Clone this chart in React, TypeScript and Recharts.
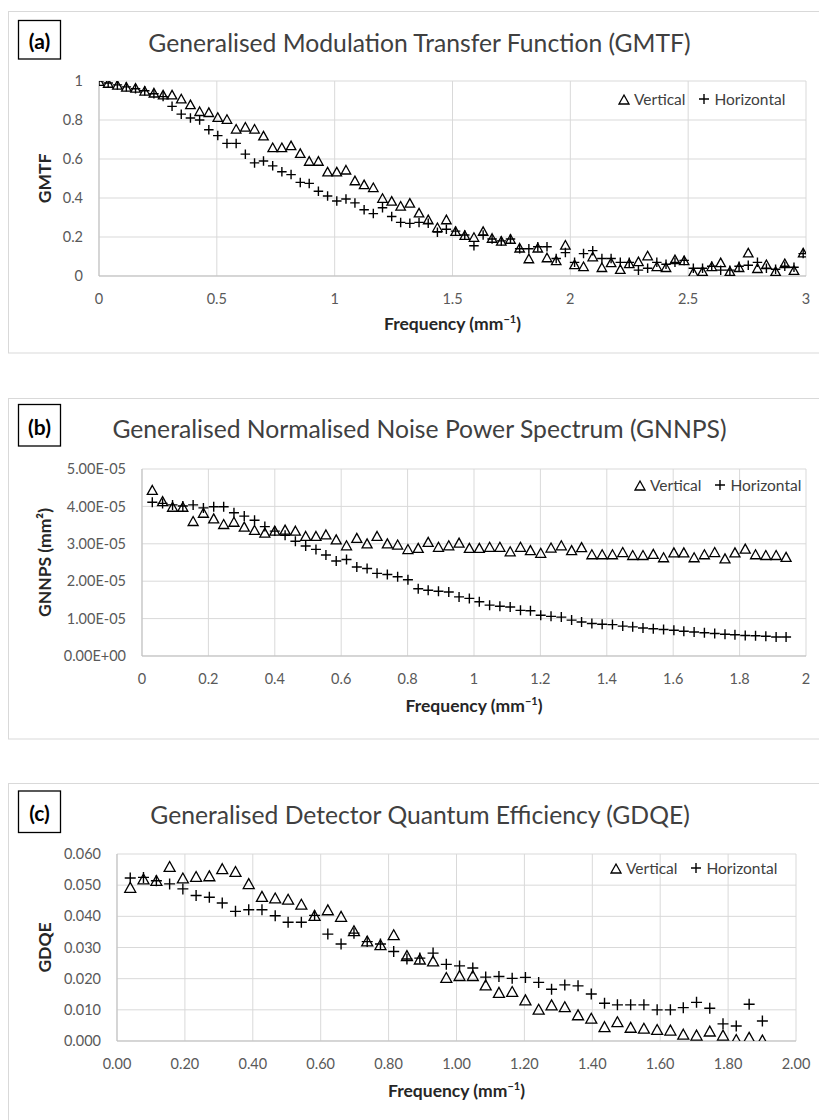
import React from 'react';
import { ScatterChart, Scatter, XAxis, YAxis, CartesianGrid, Legend, Label } from 'recharts';

const FONT = 'Lato, "Open Sans", sans-serif';

// (a) GMTF
const freqA = [
  0.0, 0.039, 0.078, 0.116, 0.155, 0.194, 0.233, 0.272, 0.31, 0.349, 0.388, 0.427, 0.466, 0.504, 0.543, 0.582,
  0.621, 0.66, 0.698, 0.737, 0.776, 0.815, 0.854, 0.892, 0.931, 0.97, 1.009, 1.048, 1.086, 1.125, 1.164, 1.203,
  1.242, 1.28, 1.319, 1.358, 1.397, 1.436, 1.474, 1.513, 1.552, 1.591, 1.63, 1.668, 1.707, 1.746, 1.785, 1.824,
  1.862, 1.901, 1.94, 1.979, 2.018, 2.056, 2.095, 2.134, 2.173, 2.212, 2.25, 2.289, 2.328, 2.367, 2.406, 2.444,
  2.483, 2.522, 2.561, 2.6, 2.638, 2.677, 2.716, 2.755, 2.794, 2.832, 2.871, 2.91, 2.949, 2.988,
];
const gmtfVertical = [
  1.0, 0.99, 0.98, 0.97, 0.965, 0.95, 0.94, 0.93, 0.93, 0.91,
  0.88, 0.845, 0.84, 0.815, 0.805, 0.755, 0.765, 0.755, 0.72, 0.66,
  0.66, 0.67, 0.63, 0.59, 0.59, 0.535, 0.535, 0.545, 0.49, 0.47,
  0.455, 0.4, 0.385, 0.36, 0.375, 0.325, 0.29, 0.25, 0.29, 0.23,
  0.21, 0.2, 0.23, 0.195, 0.18, 0.19, 0.145, 0.09, 0.145, 0.095,
  0.08, 0.16, 0.06, 0.05, 0.1, 0.045, 0.07, 0.035, 0.065, 0.075,
  0.105, 0.05, 0.045, 0.085, 0.08, 0.02, 0.025, 0.05, 0.07, 0.025,
  0.045, 0.12, 0.04, 0.06, 0.025, 0.065, 0.03, 0.12,
];
const gmtfHorizontal = [
  1.0, 0.99, 0.98, 0.97, 0.96, 0.95, 0.935, 0.92, 0.87, 0.83,
  0.81, 0.8, 0.75, 0.72, 0.68, 0.68, 0.625, 0.58, 0.59, 0.565,
  0.535, 0.52, 0.48, 0.475, 0.435, 0.41, 0.385, 0.395, 0.375, 0.34,
  0.32, 0.35, 0.305, 0.275, 0.27, 0.275, 0.27, 0.225, 0.24, 0.23,
  0.21, 0.155, 0.21, 0.19, 0.18, 0.19, 0.14, 0.14, 0.15, 0.15,
  0.09, 0.12, 0.07, 0.115, 0.13, 0.09, 0.09, 0.07, 0.07, 0.03,
  0.04, 0.07, 0.06, 0.07, 0.08, 0.04, 0.04, 0.05, 0.03, 0.03,
  0.05, 0.055, 0.07, 0.04, 0.035, 0.05, 0.045, 0.115,
];
const gmtfXTicks = [0, 0.5, 1, 1.5, 2, 2.5, 3];
const gmtfYTicks = [0, 0.2, 0.4, 0.6, 0.8, 1];

// (b) GNNPS (mm²)
const freqB = [
  0.031, 0.062, 0.092, 0.123, 0.154, 0.185, 0.216, 0.246, 0.277, 0.308, 0.339, 0.37, 0.4, 0.431, 0.462, 0.493,
  0.524, 0.554, 0.585, 0.616, 0.647, 0.678, 0.708, 0.739, 0.77, 0.801, 0.832, 0.862, 0.893, 0.924, 0.955, 0.986,
  1.016, 1.047, 1.078, 1.109, 1.14, 1.17, 1.201, 1.232, 1.263, 1.294, 1.324, 1.355, 1.386, 1.417, 1.448, 1.478,
  1.509, 1.54, 1.571, 1.602, 1.632, 1.663, 1.694, 1.725, 1.756, 1.786, 1.817, 1.848, 1.879, 1.91, 1.94,
];
const gnnpsVertical = [
  4.44e-5, 4.14e-5, 3.99e-5, 3.99e-5, 3.61e-5, 3.83e-5, 3.68e-5, 3.53e-5, 3.59e-5, 3.46e-5,
  3.37e-5, 3.3e-5, 3.35e-5, 3.38e-5, 3.35e-5, 3.21e-5, 3.21e-5, 3.25e-5, 3.12e-5, 2.96e-5,
  3.16e-5, 3.01e-5, 3.21e-5, 3.01e-5, 2.98e-5, 2.86e-5, 2.89e-5, 3.05e-5, 2.92e-5, 2.96e-5,
  3.03e-5, 2.89e-5, 2.89e-5, 2.92e-5, 2.92e-5, 2.8e-5, 2.92e-5, 2.83e-5, 2.76e-5, 2.9e-5,
  2.96e-5, 2.83e-5, 2.91e-5, 2.72e-5, 2.72e-5, 2.72e-5, 2.78e-5, 2.7e-5, 2.7e-5, 2.73e-5,
  2.64e-5, 2.77e-5, 2.77e-5, 2.64e-5, 2.72e-5, 2.78e-5, 2.61e-5, 2.77e-5, 2.87e-5, 2.72e-5,
  2.7e-5, 2.7e-5, 2.65e-5,
];
const gnnpsHorizontal = [
  4.11e-5, 4.08e-5, 4.04e-5, 4.01e-5, 4.04e-5, 3.96e-5, 3.99e-5, 3.99e-5, 3.83e-5, 3.74e-5,
  3.63e-5, 3.46e-5, 3.34e-5, 3.23e-5, 3.07e-5, 2.94e-5, 2.85e-5, 2.7e-5, 2.54e-5, 2.58e-5,
  2.38e-5, 2.34e-5, 2.21e-5, 2.18e-5, 2.12e-5, 2.04e-5, 1.8e-5, 1.76e-5, 1.73e-5, 1.71e-5,
  1.58e-5, 1.54e-5, 1.45e-5, 1.36e-5, 1.33e-5, 1.31e-5, 1.22e-5, 1.21e-5, 1.09e-5, 1.06e-5,
  1.04e-5, 0.96e-5, 0.91e-5, 0.87e-5, 0.85e-5, 0.84e-5, 0.8e-5, 0.78e-5, 0.75e-5, 0.73e-5,
  0.71e-5, 0.69e-5, 0.66e-5, 0.64e-5, 0.62e-5, 0.6e-5, 0.58e-5, 0.57e-5, 0.55e-5, 0.54e-5,
  0.53e-5, 0.51e-5, 0.51e-5,
];
const gnnpsXTicks = [0, 0.2, 0.4, 0.6, 0.8, 1, 1.2, 1.4, 1.6, 1.8, 2];
const gnnpsYTicks = [0, 1e-5, 2e-5, 3e-5, 4e-5, 5e-5];

// (c) GDQE
const freqC = [
  0.039, 0.078, 0.116, 0.155, 0.194, 0.233, 0.272, 0.31, 0.349, 0.388, 0.427, 0.466, 0.504, 0.543, 0.582, 0.621,
  0.66, 0.698, 0.737, 0.776, 0.815, 0.854, 0.892, 0.931, 0.97, 1.009, 1.048, 1.086, 1.125, 1.164, 1.203, 1.242,
  1.28, 1.319, 1.358, 1.397, 1.436, 1.474, 1.513, 1.552, 1.591, 1.63, 1.668, 1.707, 1.746, 1.785, 1.824, 1.862,
  1.901,
];
const gdqeVertical = [
  0.0493, 0.052, 0.0515, 0.056, 0.0523, 0.0528, 0.053, 0.0553, 0.0544, 0.0505,
  0.0464, 0.0459, 0.0455, 0.0439, 0.0403, 0.0421, 0.04, 0.0354, 0.0321, 0.0309,
  0.0341, 0.0274, 0.0263, 0.0257, 0.0204, 0.021, 0.021, 0.018, 0.0156, 0.0159,
  0.0132, 0.0102, 0.0116, 0.011, 0.0084, 0.0073, 0.0046, 0.0062, 0.0044, 0.0041,
  0.0037, 0.0035, 0.0022, 0.0019, 0.0032, 0.0019, 0.0005, 0.0012, 0.0003,
];
const gdqeHorizontal = [
  0.0523, 0.0525, 0.0514, 0.0504, 0.0488, 0.0467, 0.0461, 0.0443, 0.0416, 0.0421,
  0.0421, 0.0402, 0.0381, 0.0381, 0.0403, 0.0343, 0.0311, 0.0346, 0.0319, 0.0311,
  0.0287, 0.0263, 0.0266, 0.0282, 0.0246, 0.0241, 0.0234, 0.0205, 0.0207, 0.0201,
  0.0204, 0.0188, 0.0166, 0.018, 0.0177, 0.0151, 0.0121, 0.0116, 0.0116, 0.0116,
  0.01, 0.01, 0.0107, 0.0124, 0.0105, 0.0055, 0.0048, 0.0118, 0.0064,
];
const gdqeXTicks = [0, 0.2, 0.4, 0.6, 0.8, 1, 1.2, 1.4, 1.6, 1.8, 2];
const gdqeYTicks = [0, 0.01, 0.02, 0.03, 0.04, 0.05, 0.06];

const sciFormat = (v: number) => {
  const [m, e] = v.toExponential(2).split('e');
  const n = parseInt(e, 10);
  return `${m}E${n < 0 ? '-' : '+'}${String(Math.abs(n)).padStart(2, '0')}`;
};

const triPath = (cx: number, cy: number, s: number) => {
  const h = s * 0.9;
  return `M${cx},${cy - h / 2}L${cx + s / 2},${cy + h / 2}L${cx - s / 2},${cy + h / 2}Z`;
};
const plusPath = (cx: number, cy: number, s: number) =>
  `M${cx - s / 2},${cy}H${cx + s / 2}M${cx},${cy - s / 2}V${cy + s / 2}`;

const triangleShape = (s: number) => (p: any) => (
  <path d={triPath(p.cx, p.cy, s)} fill="none" stroke="#000" strokeWidth={1.3} />
);
const plusShape = (s: number) => (p: any) => (
  <path d={plusPath(p.cx, p.cy, s)} fill="none" stroke="#000" strokeWidth={1.4} />
);

const LegendBox = () => (
  <div style={{ display: 'flex', alignItems: 'center', fontFamily: FONT, fontSize: 15.5, color: '#404040', whiteSpace: 'nowrap' }}>
    <svg width={12} height={12}>
      <path d={triPath(6, 6.5, 10)} fill="none" stroke="#000" strokeWidth={1.3} />
    </svg>
    <span style={{ marginLeft: 4 }}>Vertical</span>
    <svg width={12} height={12} style={{ marginLeft: 13 }}>
      <path d={plusPath(6, 6, 10)} fill="none" stroke="#000" strokeWidth={1.4} />
    </svg>
    <span style={{ marginLeft: 4 }}>Horizontal</span>
  </div>
);

interface PanelProps {
  top: number;
  height: number;
  margin: { top: number; right: number; bottom: number; left: number };
  yWidth: number;
  freq: number[];
  vertical: number[];
  horizontal: number[];
  xTicks: number[];
  yTicks: number[];
  xFmt?: (v: number) => string;
  yFmt?: (v: number) => string;
  yLabel: string;
  xTitleDy: number;
  legend: { left: number; top: number };
  marker: number;
}

function Panel(p: PanelProps) {
  const W = 819;
  const plotLeft = p.margin.left + p.yWidth;
  const plotRight = W - p.margin.right;
  const plotTop = p.margin.top;
  const plotBottom = p.height - p.margin.bottom - 60;
  const vData = p.freq.map((f, i) => ({ x: f, y: p.vertical[i] }));
  const hData = p.freq.map((f, i) => ({ x: f, y: p.horizontal[i] }));
  const tick = { fill: '#595959', fontSize: 14.5, fontFamily: FONT };
  return (
    <div style={{ position: 'absolute', left: 0, top: p.top }}>
      <ScatterChart width={W} height={p.height} margin={p.margin}>
        <CartesianGrid stroke="#d9d9d9" strokeWidth={1} />
        <XAxis
          type="number"
          dataKey="x"
          domain={[p.xTicks[0], p.xTicks[p.xTicks.length - 1]]}
          ticks={p.xTicks}
          tickFormatter={p.xFmt}
          height={60}
          tickSize={0}
          tickMargin={18}
          tick={tick}
          axisLine={{ stroke: '#bfbfbf' }}
          allowDataOverflow
        >
          <Label
            content={() => (
              <text
                x={(plotLeft + plotRight) / 2}
                y={plotBottom + p.xTitleDy}
                textAnchor="middle"
                fontFamily={FONT}
                fontWeight="bold"
                fontSize={17.5}
                fill="#262626"
              >
                Frequency (mm
                <tspan dy={-7} fontSize={11}>−1</tspan>
                <tspan dy={7}>)</tspan>
              </text>
            )}
          />
        </XAxis>
        <YAxis
          type="number"
          dataKey="y"
          domain={[p.yTicks[0], p.yTicks[p.yTicks.length - 1]]}
          ticks={p.yTicks}
          tickFormatter={p.yFmt}
          width={p.yWidth}
          tickSize={0}
          tickMargin={16}
          tick={tick}
          axisLine={{ stroke: '#bfbfbf' }}
          allowDataOverflow
        >
          <Label
            content={() => {
              const cy = (plotTop + plotBottom) / 2;
              return (
                <text
                  x={45}
                  y={cy}
                  dy="0.35em"
                  transform={`rotate(-90 45 ${cy})`}
                  textAnchor="middle"
                  fontFamily={FONT}
                  fontWeight="bold"
                  fontSize={17.5}
                  fill="#262626"
                >
                  {p.yLabel}
                </text>
              );
            }}
          />
        </YAxis>
        <Legend
          verticalAlign="middle"
          align="center"
          layout="horizontal"
          wrapperStyle={{ left: p.legend.left, top: p.legend.top, width: 'auto', height: 'auto' }}
          content={() => <LegendBox />}
        />
        <Scatter name="Vertical" data={vData} shape={triangleShape(p.marker)} isAnimationActive={false} />
        <Scatter name="Horizontal" data={hData} shape={plusShape(p.marker)} isAnimationActive={false} />
      </ScatterChart>
    </div>
  );
}

const titleStyle = { fontFamily: FONT, fontSize: 24.7, fill: '#404040' };
const tagStyle = { fontFamily: FONT, fontSize: 21, fontWeight: 'bold' as const, fill: '#000' };

export default function App() {
  return (
    <div style={{ position: 'absolute', left: 0, top: 0, width: 819, height: 1120, overflow: 'hidden', background: '#fff' }}>
      <svg width={819} height={1120} style={{ position: 'absolute', left: 0, top: 0 }}>
        <rect x={8.5} y={11.5} width={830} height={341.5} fill="none" stroke="#d9d9d9" />
        <rect x={8.5} y={398.5} width={830} height={340.5} fill="none" stroke="#d9d9d9" />
        <rect x={8.5} y={783.5} width={830} height={400} fill="none" stroke="#d9d9d9" />

        <rect x={18.5} y={20.5} width={42} height={38.5} fill="none" stroke="#000" strokeWidth={1.3} />
        <text x={39.5} y={48.5} textAnchor="middle" {...tagStyle}>(a)</text>
        <rect x={18.5} y={404.5} width={42} height={41.5} fill="none" stroke="#000" strokeWidth={1.3} />
        <text x={39.5} y={435} textAnchor="middle" {...tagStyle}>(b)</text>
        <rect x={18.5} y={791} width={42} height={41.5} fill="none" stroke="#000" strokeWidth={1.3} />
        <text x={39.5} y={820.5} textAnchor="middle" {...tagStyle}>(c)</text>

        <text x={419.5} y={51.5} textAnchor="middle" {...titleStyle}>Generalised Modulation Transfer Function (GMTF)</text>
        <text x={419.5} y={437.5} textAnchor="middle" {...titleStyle}>Generalised Normalised Noise Power Spectrum (GNNPS)</text>
        <text x={420} y={823.5} textAnchor="middle" {...titleStyle}>Generalised Detector Quantum Efficiency (GDQE)</text>
      </svg>

      <Panel
        top={11}
        height={342}
        margin={{ top: 70, right: 13, bottom: 17, left: 39 }}
        yWidth={60}
        freq={freqA}
        vertical={gmtfVertical}
        horizontal={gmtfHorizontal}
        xTicks={gmtfXTicks}
        yTicks={gmtfYTicks}
        yLabel="GMTF"
        xTitleDy={54}
        legend={{ left: 618, top: 79 }}
        marker={9.5}
      />
      <Panel
        top={398}
        height={341}
        margin={{ top: 71, right: 13, bottom: 23, left: 42 }}
        yWidth={100}
        freq={freqB}
        vertical={gnnpsVertical}
        horizontal={gnnpsHorizontal}
        xTicks={gnnpsXTicks}
        yTicks={gnnpsYTicks}
        yFmt={sciFormat}
        yLabel="GNNPS (mm²)"
        xTitleDy={56}
        legend={{ left: 634, top: 78 }}
        marker={10}
      />
      <Panel
        top={783}
        height={337}
        margin={{ top: 71, right: 23, bottom: 19, left: 47 }}
        yWidth={70}
        freq={freqC}
        vertical={gdqeVertical}
        horizontal={gdqeHorizontal}
        xTicks={gdqeXTicks}
        yTicks={gdqeYTicks}
        xFmt={(v) => v.toFixed(2)}
        yFmt={(v) => v.toFixed(3)}
        yLabel="GDQE"
        xTitleDy={56}
        legend={{ left: 610, top: 76 }}
        marker={11}
      />
    </div>
  );
}
